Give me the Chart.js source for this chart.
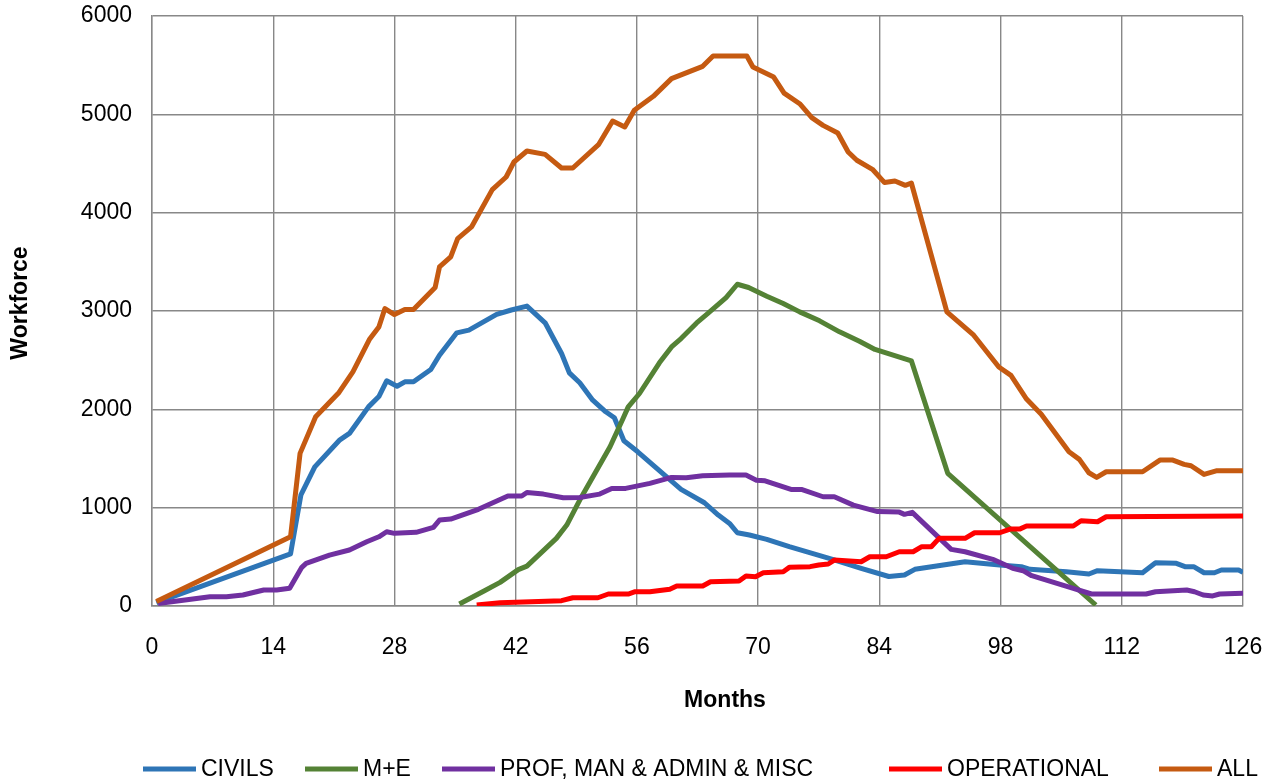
<!DOCTYPE html>
<html>
<head>
<meta charset="utf-8">
<title>Workforce by month</title>
<script src="https://cdn.jsdelivr.net/npm/chart.js@4.4.1/dist/chart.umd.min.js"></script>
<style>
  html, body { margin: 0; padding: 0; background: #ffffff; }
  canvas { display: block; }
</style>
</head>
<body>
<canvas id="chart" width="1272" height="783"></canvas>
<script>
// Workforce per discipline over the programme, in months from start.
const civilsMonths = [0.5, 16, 17.2, 18.8, 21.7, 22.8, 25, 26.2, 27.1, 28.3, 29.2, 30.2, 32.2, 33.2, 35.2, 36.6, 39.8, 41.5, 43.3, 45.4, 47.3, 48.2, 49.4, 50.9, 52.4, 53.4, 54.5, 56.1, 58.3, 61.1, 63.8, 65.4, 66.7, 67.6, 69, 71, 73.6, 78.6, 81.9, 85.1, 86.9, 88.1, 93.9, 97.9, 100.4, 101.4, 105.6, 108.2, 109.2, 114.4, 115.9, 118.3, 119.3, 120.3, 121.5, 122.7, 123.5, 125.5, 126];
const civilsWorkforce = [35, 530, 1130, 1415, 1690, 1755, 2025, 2130, 2290, 2235, 2280, 2280, 2405, 2550, 2778, 2805, 2965, 3010, 3050, 2880, 2568, 2371, 2270, 2093, 1975, 1914, 1680, 1568, 1399, 1186, 1050, 925, 840, 745, 722, 678, 603, 475, 383, 300, 315, 373, 450, 417, 400, 373, 349, 325, 359, 338, 440, 434, 400, 400, 338, 338, 366, 366, 342];

const meMonths = [35.5, 38.4, 40.2, 42.3, 43.3, 46.7, 47.9, 49.4, 52.9, 54.4, 55.0, 56.3, 58.6, 60.0, 61.1, 62.9, 64.2, 66.3, 67.6, 68.9, 71.0, 72.9, 74.8, 77.1, 79.4, 81.7, 83.5, 87.7, 91.9, 109];
const meWorkforce = [20, 155, 240, 370, 405, 688, 823, 1077, 1619, 1907, 2025, 2161, 2473, 2635, 2720, 2879, 2975, 3137, 3272, 3239, 3150, 3076, 2991, 2900, 2788, 2693, 2609, 2493, 1349, 10];

const profMonths = [0.7, 6.7, 8.6, 10.5, 12.9, 14.4, 15.9, 17.3, 17.8, 20.5, 22.8, 24.8, 26.2, 27.1, 28.0, 30.5, 32.5, 33.2, 34.5, 37.7, 41.1, 42.7, 43.3, 45.2, 47.5, 49.4, 51.7, 53.1, 54.7, 57.5, 60.0, 61.7, 63.6, 66.7, 68.6, 69.8, 70.8, 73.8, 75.0, 77.5, 78.8, 81.0, 83.8, 86.3, 86.9, 87.8, 92.3, 93.9, 97.1, 99.4, 100.6, 101.6, 106.4, 108.5, 114.8, 115.9, 119.5, 120.4, 121.4, 122.5, 123.3, 126];
const profWorkforce = [25, 95, 95, 112, 163, 163, 180, 393, 434, 518, 569, 653, 704, 755, 739, 749, 800, 874, 884, 983, 1118, 1118, 1155, 1138, 1101, 1104, 1138, 1196, 1196, 1247, 1308, 1304, 1324, 1331, 1331, 1280, 1273, 1186, 1186, 1111, 1111, 1026, 960, 955, 932, 952, 576, 552, 475, 383, 359, 308, 180, 122, 122, 145, 163, 145, 112, 102, 122, 129];

const operationalMonths = [37.5, 40.2, 47.3, 48.6, 51.5, 52.7, 55.0, 55.8, 57.5, 59.8, 60.6, 63.6, 64.5, 67.8, 68.6, 69.7, 70.6, 72.9, 73.6, 76.0, 77.0, 78.1, 78.8, 81.9, 82.9, 84.8, 86.3, 87.9, 88.9, 90.0, 90.9, 93.9, 95.0, 97.9, 99.1, 100.2, 101.0, 106.4, 107.3, 109.2, 110.2, 126];
const operationalWorkforce = [10, 34, 54, 84, 84, 122, 122, 145, 145, 170, 203, 203, 247, 254, 305, 298, 338, 349, 393, 400, 417, 427, 467, 450, 501, 501, 552, 552, 603, 603, 688, 688, 745, 745, 782, 782, 813, 813, 867, 857, 908, 915];

const allMonths = [0.5, 16, 17.1, 18.9, 21.6, 23.2, 25.1, 26.2, 26.9, 28.0, 29.2, 30.2, 32.7, 33.2, 34.5, 35.3, 36.9, 39.3, 40.9, 41.8, 43.3, 45.4, 47.3, 48.6, 51.6, 53.2, 54.6, 55.7, 57.9, 60.0, 63.6, 64.8, 68.7, 69.4, 71.8, 73.0, 74.8, 76.2, 77.5, 79.2, 80.4, 81.4, 83.2, 84.6, 85.8, 87.0, 87.7, 91.8, 94.9, 97.8, 99.2, 101.0, 102.7, 105.9, 107.1, 108.2, 109.1, 110.2, 114.4, 116.4, 117.9, 119.2, 120.0, 121.5, 122.9, 126];
const allWorkforce = [45, 704, 1552, 1924, 2172, 2381, 2710, 2838, 3025, 2964, 3015, 3015, 3240, 3448, 3550, 3736, 3855, 4234, 4363, 4515, 4627, 4593, 4454, 4454, 4695, 4932, 4871, 5041, 5183, 5363, 5488, 5593, 5593, 5481, 5379, 5216, 5108, 4966, 4888, 4810, 4617, 4533, 4441, 4306, 4322, 4278, 4302, 2991, 2754, 2430, 2345, 2105, 1950, 1568, 1491, 1355, 1308, 1365, 1365, 1484, 1484, 1440, 1426, 1338, 1375, 1375];

const seriesNames = ['CIVILS', 'M+E', 'PROF, MAN & ADMIN & MISC', 'OPERATIONAL', 'ALL'];
const seriesColours = ['#2E75B6', '#548235', '#7030A0', '#FF0000', '#C55A11'];
const monthTicks = { min: 0, max: 126, step: 14 };
const workforceTicks = { min: 0, max: 6000, step: 1000 };

const FONT = '"Liberation Sans", Arial, Helvetica, sans-serif';
const GRID = '#888888';

function points(xs, ys) {
  return xs.map((x, i) => ({ x: x, y: ys[i] }));
}

const seriesData = [
  points(civilsMonths, civilsWorkforce),
  points(meMonths, meWorkforce),
  points(profMonths, profWorkforce),
  points(operationalMonths, operationalWorkforce),
  points(allMonths, allWorkforce)
];

// Later series sit on top of earlier ones.
const datasets = seriesData.map((data, i) => ({
  label: seriesNames[i],
  data: data,
  borderColor: seriesColours[i],
  backgroundColor: seriesColours[i],
  borderWidth: 5,
  borderJoinStyle: 'round',
  borderCapStyle: 'butt',
  pointRadius: 0,
  tension: 0,
  fill: false,
  order: seriesData.length - i
}));

// Axis titles and the legend row underneath the chart.
const decorations = {
  id: 'decorations',
  afterDraw(chart, args, opts) {
    const ctx = chart.ctx;
    ctx.save();
    ctx.fillStyle = '#000';
    ctx.font = 'bold 23px ' + FONT;
    ctx.textAlign = 'center';
    ctx.textBaseline = 'middle';
    ctx.fillText('Months', opts.xTitle.x, opts.xTitle.y);

    ctx.save();
    ctx.translate(opts.yTitle.x, opts.yTitle.y);
    ctx.rotate(-Math.PI / 2);
    ctx.fillText('Workforce', 0, 0);
    ctx.restore();

    ctx.font = '23px ' + FONT;
    ctx.textAlign = 'left';
    chart.data.datasets.forEach((ds, i) => {
      const x0 = opts.legendX[i];
      const y = opts.legendY;
      ctx.strokeStyle = ds.borderColor;
      ctx.lineWidth = 5;
      ctx.lineCap = 'butt';
      ctx.beginPath();
      ctx.moveTo(x0, y);
      ctx.lineTo(x0 + opts.swatch, y);
      ctx.stroke();
      ctx.fillStyle = '#000';
      ctx.fillText(ds.label, x0 + opts.swatch + 5, y + 1);
    });
    ctx.restore();
  }
};

new Chart(document.getElementById('chart'), {
  type: 'line',
  data: { datasets: datasets },
  plugins: [decorations],
  options: {
    responsive: false,
    devicePixelRatio: 1,
    animation: false,
    layout: { padding: { top: 16, right: 29, left: 0, bottom: 0 } },
    plugins: {
      legend: { display: false },
      tooltip: { enabled: false },
      decorations: {
        xTitle: { x: 725, y: 701 },
        yTitle: { x: 21, y: 303 },
        legendX: [143, 305, 442, 889, 1159],
        legendY: 769,
        swatch: 53
      }
    },
    scales: {
      x: {
        type: 'linear',
        min: monthTicks.min,
        max: monthTicks.max,
        afterFit(scale) {
          scale.height = 177;
          scale.paddingLeft = 0;
          scale.paddingRight = 0;
        },
        ticks: {
          stepSize: monthTicks.step,
          color: '#000',
          padding: 28,
          maxRotation: 0,
          font: { family: FONT, size: 23 }
        },
        grid: { color: GRID, lineWidth: 1.4, drawTicks: false },
        border: { color: GRID, width: 1.4 }
      },
      y: {
        min: workforceTicks.min,
        max: workforceTicks.max,
        afterFit(scale) {
          scale.width = 152;
          scale.paddingTop = 0;
          scale.paddingBottom = 0;
        },
        ticks: {
          stepSize: workforceTicks.step,
          color: '#000',
          padding: 20,
          font: { family: FONT, size: 23 },
          callback: (value) => String(value)
        },
        grid: { color: GRID, lineWidth: 1.4, drawTicks: false },
        border: { color: GRID, width: 1.4 }
      }
    }
  }
});
</script>
</body>
</html>
